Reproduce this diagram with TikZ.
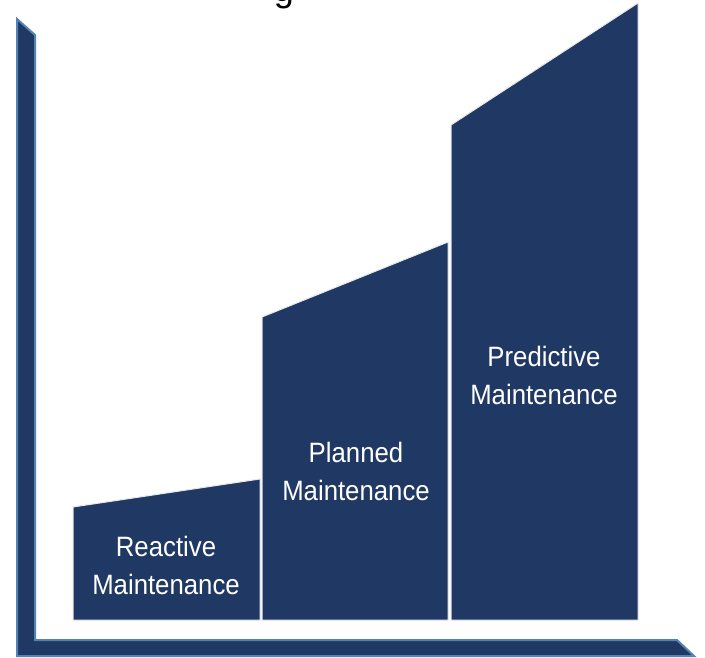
\documentclass[tikz,border=0pt]{standalone}
\usepackage{fontspec}
\setmainfont{Liberation Sans}
\newfontfamily\barfont[FakeStretch=0.92]{Liberation Sans}
\definecolor{barColor}{RGB}{32,56,100}
\definecolor{axisEdge}{RGB}{84,130,180}
\definecolor{barEdge}{RGB}{232,232,232}

\begin{document}
\begin{tikzpicture}[x=0.75pt,y=-0.75pt]
    \tikzstyle{axis} = [fill=barColor,draw=axisEdge,line width=1.5pt,line join=miter]
    \tikzstyle{bar} = [fill=barColor,draw=barEdge,line width=0.75pt]
    \tikzstyle{barlabel} = [text=white,align=center,inner sep=0pt,font=\barfont\fontsize{21}{28.5}\selectfont]

    \useasboundingbox (0,0) rectangle (705,657);

    % title, cut off at the top
    \node [anchor=base,inner sep=0pt,font=\fontsize{27}{30}\selectfont] (title) at (284,1) {g};

    % axes
    \draw [axis] (17,19) -- (35,35) -- (35,640) -- (677,640) -- (694,656) -- (17,656) -- cycle;

    % bars
    \draw [bar] (73,620) -- (73,507) -- (260,479) -- (260,620) -- cycle;
    \draw [bar] (262,620) -- (262,317) -- (448,242) -- (448,620) -- cycle;
    \draw [bar] (451,620) -- (451,125) -- (638,3) -- (638,620) -- cycle;

    \node [barlabel] (reactive) at (166,565) {Reactive\\Maintenance};
    \node [barlabel] (planned) at (356,471) {Planned\\Maintenance};
    \node [barlabel] (predictive) at (544,375) {Predictive\\Maintenance};

\end{tikzpicture}
\end{document}
